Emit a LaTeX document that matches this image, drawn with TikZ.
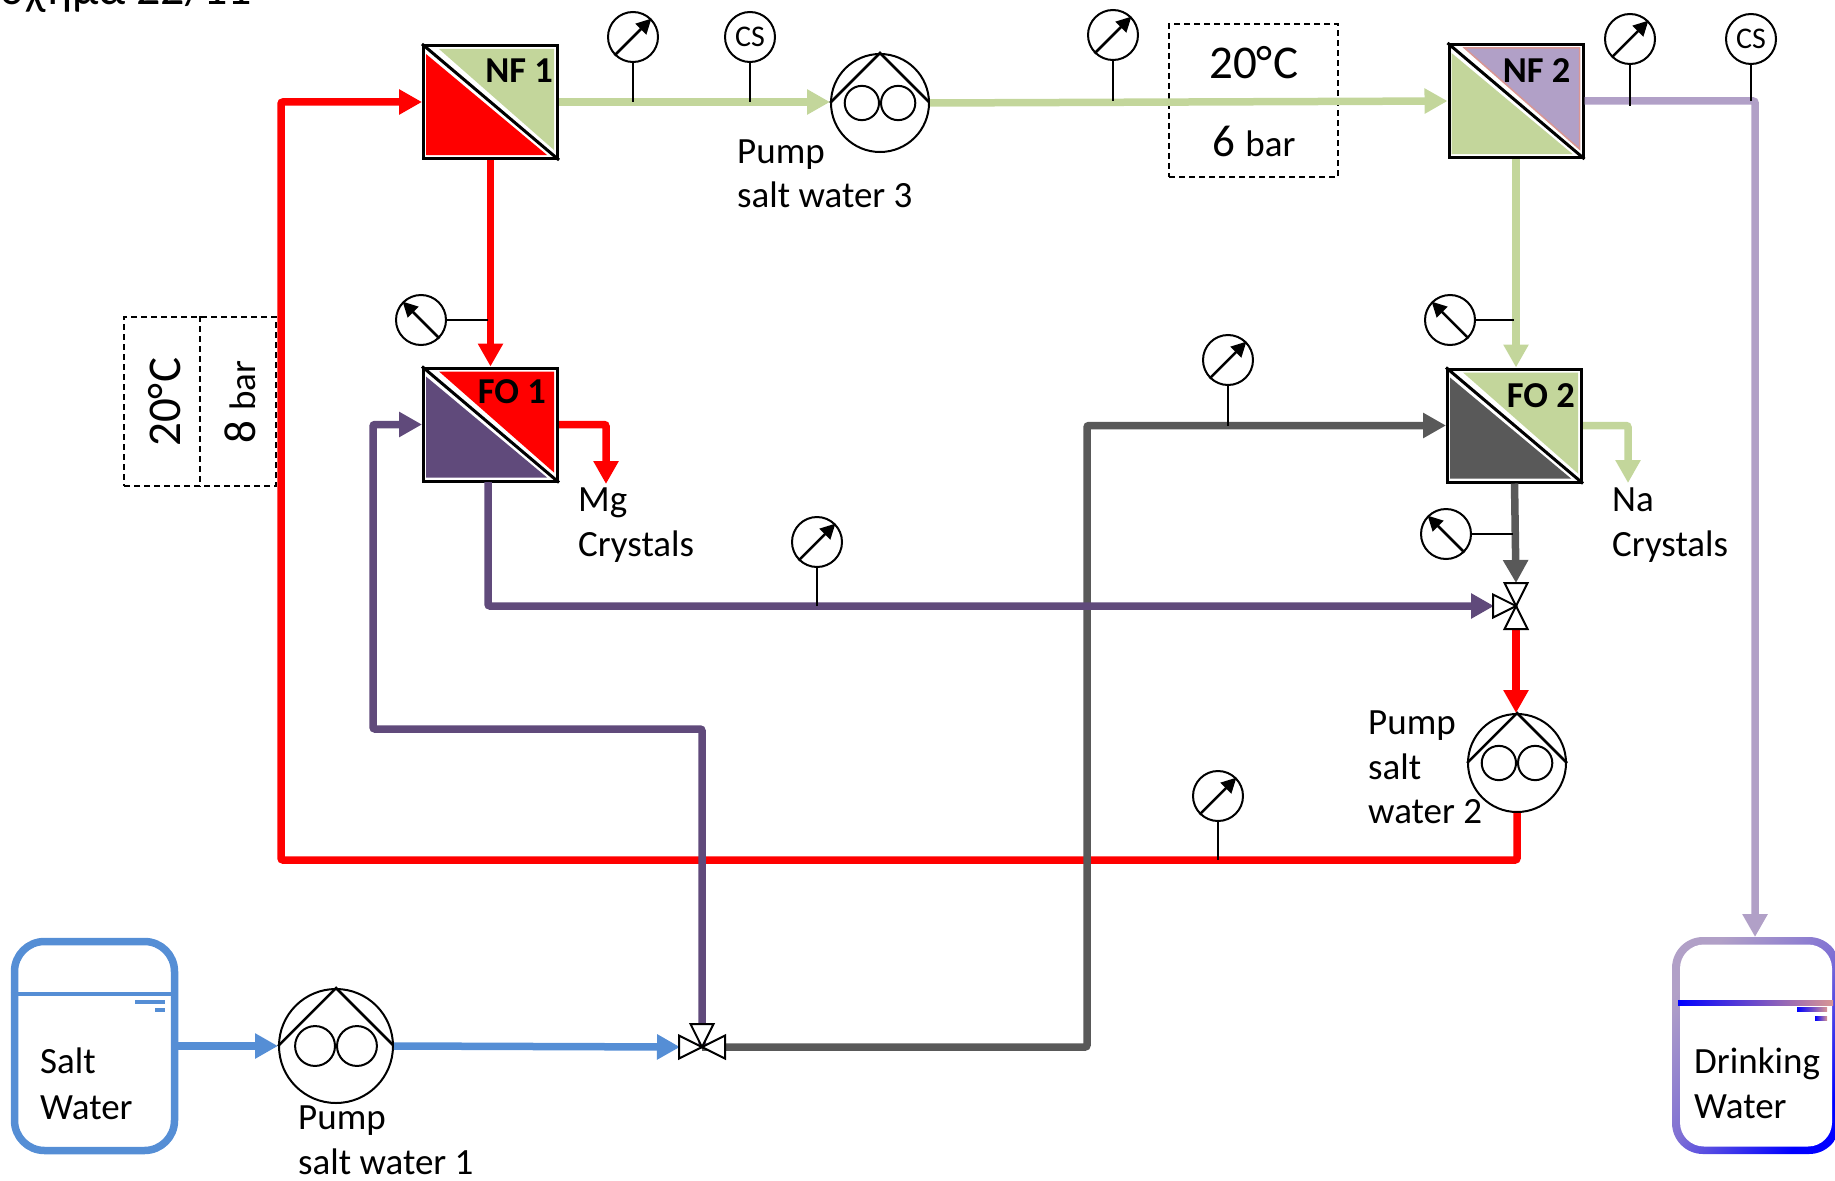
\documentclass[tikz,border=0pt]{standalone}
\usepackage{fontspec}
\setmainfont{Carlito}
\usetikzlibrary{arrows.meta,positioning,calc}
\definecolor{Redline}{HTML}{FF0000}
\definecolor{Sage}{HTML}{C3D69B}
\definecolor{Plum}{HTML}{604A7B}
\definecolor{Coal}{HTML}{595959}
\definecolor{Lilac}{HTML}{B1A0C7}
\definecolor{Azure}{HTML}{558ED5}
\definecolor{Blush}{HTML}{D99694}
\definecolor{Tankmid}{HTML}{7F70D4}
\tikzset{
  pipe/.style={line width=7.5pt,rounded corners=2pt},
  flow/.style={pipe,-{Triangle[length=23pt,width=24pt]}},
  membrane/.style={draw,line width=3pt,minimum width=134pt,minimum height=113pt,inner sep=0pt,fill=white},
  gauge/.style={draw,circle,line width=2pt,minimum size=50pt,inner sep=0pt,fill=white},
  needle/.style={line width=2.5pt,-{Triangle[length=15pt,width=15pt]}},
  stem/.style={line width=2.5pt},
  pumpbody/.style={draw,circle,line width=2pt,inner sep=0pt,fill=white},
  vtri/.style={draw,line width=2pt,fill=white,line join=miter},
  dashbox/.style={draw,dash pattern=on 6pt off 4pt,line width=2pt,inner sep=0pt},
  label/.style={font=\fontsize{37}{44}\selectfont,align=left,anchor=base west,inner sep=0pt},
  tag/.style={font=\fontsize{36.5}{40}\selectfont\bfseries,anchor=base east,inner sep=0pt},
  csnum/.style={font=\fontsize{30}{34}\selectfont},
}
% membrane unit: name, centre, lower colour, upper colour, text, text offset
\newcommand{\membraneunit}[6]{
  \node[membrane] (#1) at (#2) {};
  \fill[#3] ($(#1.north west)+(4,10)$) -- ($(#1.south west)+(4,-5)$) -- ($(#1.south east)+(-12,-5)$) -- cycle;
  \fill[#4] ($(#1.north west)+(17,5)$) -- ($(#1.north east)+(-5,5)$) -- ($(#1.south east)+(-5,-10)$) -- cycle;
  \draw[line width=3pt] (#1.north west) -- (#1.south east);
  \node[tag] (#1tag) at ($(#1.north east)+(#6)$) {#5};
}
% pump: name, centre, diameter
\newcommand{\pumpunit}[3]{
  \node[pumpbody,minimum size=#3pt] (#1) at (#2) {};
  \draw[line width=2.5pt] (#1.west) -- (#1.north) -- (#1.east);
  \node[pumpbody,minimum size=0.35*#3pt,left=0pt of #1.center] (#1a) {};
  \node[pumpbody,minimum size=0.35*#3pt,right=0pt of #1.center] (#1b) {};
}
% three-way valve: name, centre, list of angles
\newcommand{\valveunit}[3]{
  \coordinate (#1) at (#2);
  \foreach \ang in {#3}{
    \draw[vtri,rotate around={\ang:(#1)}] (#1) -- ++(23,-11.5) -- ++(0,23) -- cycle;
  }
}
\begin{document}
\begin{tikzpicture}[x=1pt,y=-1pt,>=Latex]
  \useasboundingbox (0,0) rectangle (1835,1180);
  \node[label,font=\fontsize{48}{52}\selectfont] (title) at (0,5) {σχήμα 22/11};

  % dashed boxes go under the pipes
  \node[dashbox,minimum width=169pt,minimum height=153pt] (cond2) at (1253.5,100.5) {};
  \draw[dashbox] (cond2.west) -- (cond2.east);
  \node[dashbox,minimum width=152pt,minimum height=169pt] (cond1) at (200,401.5) {};
  \draw[dashbox] (cond1.north) -- (cond1.south);
  \node[font=\fontsize{47}{50}\selectfont,inner sep=0pt] (temp2) at (1254,63) {20°\kern1pt C};
  \node[font=\fontsize{37}{44}\selectfont,inner sep=0pt] (press2) at (1254,141) {\fontsize{45}{50}\selectfont 6 \fontsize{37}{44}\selectfont bar};
  \node[font=\fontsize{47}{50}\selectfont,inner sep=0pt,rotate=90] (temp1) at (165,402) {20°\kern1pt C};
  \node[font=\fontsize{37}{44}\selectfont,inner sep=0pt,rotate=90] (press1) at (240,402) {\fontsize{45}{50}\selectfont 8 \fontsize{37}{44}\selectfont bar};

  % equipment
  \membraneunit{nf1}{490.5,102}{Redline}{Sage}{NF 1}{-6,39}
  \membraneunit{fo1}{490.5,424.5}{Plum}{Redline}{FO 1}{-13,37}
  \membraneunit{nf2}{1516,101}{Sage}{Lilac,draw=Blush,line width=1.5pt}{NF 2}{-14,40}
  \membraneunit{fo2}{1514.5,425.5}{Coal}{Sage}{FO 2}{-8,40}
  \pumpunit{pump1}{336,1046}{114}
  \pumpunit{pump2}{1517,763}{98}
  \pumpunit{pump3}{880,103}{98}
  \coordinate (vfeed) at (702,1047);
  \coordinate (vmix) at (1516,606);

  % tanks
  \node[draw=Azure,line width=7.5pt,rounded corners=30pt,minimum width=160pt,minimum height=209pt,inner sep=0pt] (salt) at (94.5,1046) {};
  \draw[Azure,line width=3.5pt] (salt.west |- 0,994) -- (salt.east |- 0,994);
  \draw[Azure,line width=4pt] (135,1002) -- (165,1002);
  \draw[Azure,line width=4pt] (155,1010) -- (165,1010);
  \node[top color=Lilac,bottom color=blue,middle color=Tankmid,shading angle=50,rounded corners=31pt,minimum width=168pt,minimum height=217pt,inner sep=0pt] (drink) at (1756,1045.5) {};
  \node[fill=white,rounded corners=24pt,minimum width=152pt,minimum height=202pt,inner sep=0pt] (drinkin) at (1756,1045.5) {};
  \shade[left color=blue,right color=Blush,middle color=blue!50!Blush] (1678,1000.5) rectangle (1833,1005.5);
  \shade[left color=blue,right color=Blush] (1797,1007) rectangle (1827,1011.5);
  \shade[left color=blue,right color=Blush] (1815,1016) rectangle (1827,1020.5);
  \coordinate (drinktop) at (1755,937);

  % pipes
  \coordinate (redtl) at (281,102);
  \draw[flow,Redline] (pump2.south) -- (1517,860) -- (281,860) -- (redtl) -- (nf1.west);
  \draw[flow,Redline] (nf1.south) -- (nf1.south |- fo1.north);
  \draw[flow,Redline] (fo1.east) -- (606,424.5) -- (606,484);
  \draw[flow,Redline] (vmix |- 0,628) -- (vmix |- pump2.north);
  \draw[flow,Sage] (nf1.east) -- (nf1.east -| pump3.west);
  \draw[flow,Sage] (pump3.east) -- (nf2.west);
  \draw[flow,Sage] (nf2.south) -- (nf2.south |- fo2.north);
  \draw[flow,Sage] (fo2.east) -- (1628,425.5) -- (1628,483);
  \draw[flow,Lilac] (nf2.east) -- (nf2.east -| drinktop) -- (drinktop);
  \draw[flow,Coal] (vfeed) -- (1087,1047) -- (1087,425.5) -- (fo2.west);
  \draw[flow,Coal] (fo2.south) -- (1516,583);
  \draw[flow,Plum] (vfeed) -- (702,729) -- (373,729) -- (373,424.5) -- (fo1.west);
  \draw[flow,Plum] (488,482) -- (488,606) -- (1494,606);
  \draw[flow,Azure] (salt.east) -- (pump1.west);
  \draw[flow,Azure] (pump1.east) -- (680,1047);

  % instruments
  \foreach \nm/\px/\py in {g1/633/37,g3/1113/35,g4/1630/39,g5/817/542,g6/1228/360,g7/1218/796}{
    \node[gauge] (\nm) at (\px,\py) {};
    \draw[needle] (\nm.225) -- (\nm.45);
  }
  \foreach \nm/\px/\py in {g8/421/320,g9/1446/534,g10/1450/320}{
    \node[gauge] (\nm) at (\px,\py) {};
    \draw[needle] (\nm.-45) -- (\nm.135);
  }
  \node[gauge,csnum] (cs1) at (750,37) {CS};
  \node[gauge,csnum] (cs2) at (1751,39) {CS};
  \draw[stem] (g1.south) -- (g1.south |- nf1.east);
  \draw[stem] (cs1.south) -- (cs1.south |- nf1.east);
  \draw[stem] (g3.south) -- (g3.south |- nf2.west);
  \draw[stem] (g4.south) -- (1630,106);
  \draw[stem] (cs2.south) -- (cs2.south |- nf2.east);
  \draw[stem] (g5.south) -- (g5.south |- vmix);
  \draw[stem] (g6.south) -- (g6.south |- fo2.west);
  \draw[stem] (g7.south) -- (1218,860);
  \draw[stem] (g8.east) -- (488,320);
  \draw[stem] (g9.east) -- (1513,534);
  \draw[stem] (g10.east) -- (1514,320);

  % valves
  \valveunit{vfeed}{702,1047}{180,0,90}
  \valveunit{vmix}{1516,606}{180,90,-90}

  % labels
  \node[label] (lsalt) at (40,1073) {Salt};
  \node[label] (lsalt2) at (40,1119) {Water};
  \node[label] (ldrink) at (1694,1073) {Drinking};
  \node[label] (ldrink2) at (1694,1118) {Water};
  \node[label] (lp1) at (298,1129) {Pump};
  \node[label] (lp1b) at (298,1174) {salt water 1};
  \node[label] (lp3) at (737,163) {Pump};
  \node[label] (lp3b) at (737,207) {salt water 3};
  \node[label] (lp2) at (1368,734) {Pump};
  \node[label] (lp2b) at (1368,779) {salt};
  \node[label] (lp2c) at (1368,823) {water 2};
  \node[label] (lmg) at (578,511) {Mg};
  \node[label] (lmgb) at (578,556) {Crystals};
  \node[label] (lna) at (1612,511) {Na};
  \node[label] (lnab) at (1612,556) {Crystals};
\end{tikzpicture}
\end{document}
